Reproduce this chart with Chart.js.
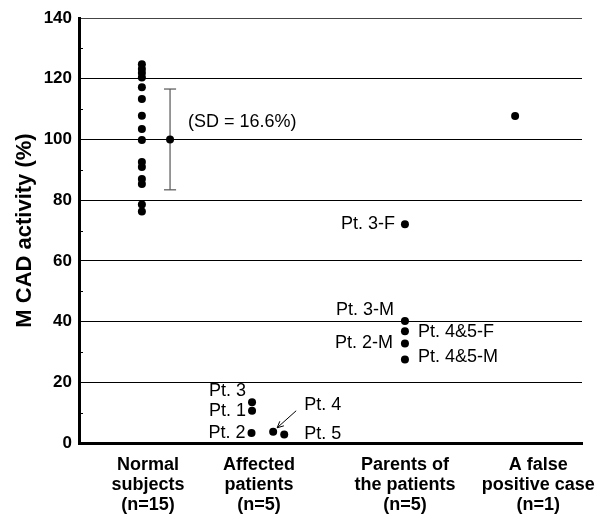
<!DOCTYPE html>
<html><head><meta charset="utf-8">
<script src="https://cdn.jsdelivr.net/npm/chart.js@4/dist/chart.umd.min.js"></script>
<style>html,body{margin:0;padding:0;background:#fff}#wrap{width:600px;height:517px;position:relative}</style>
</head><body><div id="wrap"><canvas id="c"></canvas></div>
<script>
// ---- data ----
const categories = [["Normal","subjects","(n=15)"],["Affected","patients","(n=5)"],["Parents of","the patients","(n=5)"],["A false","positive case","(n=1)"]];
const categoryX = [1.37, 3.58, 6.48, 9.13];
const yTicks = [0, 20, 40, 60, 80, 100, 120, 140];
const normalValues = [124.8, 123.2, 121.9, 120.4, 117.2, 113.3, 107.8, 103.4, 99.8, 92.6, 90.9, 87.0, 85.3, 78.6, 76.3];
const normalX = 1.25;
const sdMean = 100;
const sdValue = 16.6;
const sdX = 1.81;
const sdLabel = "(SD = 16.6%)";
const affectedLabels = ["Pt. 3", "Pt. 1", "Pt. 2", "Pt. 4", "Pt. 5"];
const affectedValues = [13.4, 10.6, 3.3, 3.7, 2.8];
const affectedX = [3.44, 3.44, 3.43, 3.86, 4.08];
const parentLabels = ["Pt. 3-F", "Pt. 3-M", "Pt. 4&5-F", "Pt. 2-M", "Pt. 4&5-M"];
const parentValues = [72.1, 40.2, 36.8, 32.8, 27.5];
const parentX = 6.48;
const falsePositiveValues = [107.7];
const falsePositiveX = 8.67;

// ---- label placement (style, pixel offsets from the point) ----
const labelStyle = {
  "Pt. 3": {align: "right", dx: -6, dy: -11},
  "Pt. 1": {align: "right", dx: -6, dy: 0},
  "Pt. 2": {align: "right", dx: -6, dy: 0},
  "Pt. 4": {align: "left", dx: 31, dy: -27},
  "Pt. 5": {align: "left", dx: 20, dy: 0},
  "Pt. 3-F": {align: "right", dx: -10, dy: 0},
  "Pt. 3-M": {align: "right", dx: -11, dy: -11},
  "Pt. 4&5-F": {align: "left", dx: 13, dy: 1},
  "Pt. 2-M": {align: "right", dx: -12, dy: 0},
  "Pt. 4&5-M": {align: "left", dx: 13, dy: -2},
  [sdLabel]: {align: "left", dx: 18, dy: -17}
};
const CAP = 0.12;
const dot = {pointRadius: 4, pointHoverRadius: 4, backgroundColor: "#000", borderColor: "#000", borderWidth: 0};
const errLine = {showLine: true, pointRadius: 0, borderColor: "#555", borderWidth: 1.2};

const annotate = {
  id: "annotate",
  afterDatasetsDraw(chart) {
    const ctx = chart.ctx;
    ctx.save();
    ctx.font = "18px 'Liberation Sans', Arial, sans-serif";
    ctx.fillStyle = "#000";
    ctx.textBaseline = "middle";
    chart.data.datasets.forEach((ds, di) => {
      if (!ds.labels) return;
      const meta = chart.getDatasetMeta(di);
      ds.labels.forEach((t, i) => {
        const el = meta.data[i];
        const s = labelStyle[t];
        ctx.textAlign = s.align;
        ctx.fillText(t, el.x + s.dx, el.y + s.dy);
        if (t === "Pt. 4") {
          const tx = el.x + 4, ty = el.y - 4, sx = el.x + 23, sy = el.y - 21;
          ctx.strokeStyle = "#000"; ctx.lineWidth = 1;
          ctx.beginPath(); ctx.moveTo(sx, sy); ctx.lineTo(tx, ty); ctx.stroke();
          const a = Math.atan2(ty - sy, tx - sx);
          ctx.beginPath();
          ctx.moveTo(tx - 7 * Math.cos(a - 0.45), ty - 7 * Math.sin(a - 0.45));
          ctx.lineTo(tx, ty);
          ctx.lineTo(tx - 7 * Math.cos(a + 0.45), ty - 7 * Math.sin(a + 0.45));
          ctx.stroke();
        }
      });
    });
    // minor ticks on y axis
    const ys = chart.scales.y, left = chart.chartArea.left;
    ctx.strokeStyle = "#000"; ctx.lineWidth = 1;
    for (let v = 10; v < 140; v += 20) {
      const y = Math.round(ys.getPixelForValue(v)) + 0.5;
      ctx.beginPath(); ctx.moveTo(left, y); ctx.lineTo(left + 4, y); ctx.stroke();
    }
    ctx.restore();
  }
};

new Chart(document.getElementById("c"), {
  type: "scatter",
  data: {
    datasets: [
      Object.assign({data: normalValues.map(v => ({x: normalX, y: v}))}, dot),
      Object.assign({data: [{x: sdX, y: sdMean}], labels: [sdLabel]}, dot),
      Object.assign({data: [{x: sdX, y: sdMean - sdValue}, {x: sdX, y: sdMean + sdValue}]}, errLine),
      Object.assign({data: [{x: sdX - CAP, y: sdMean + sdValue}, {x: sdX + CAP, y: sdMean + sdValue}]}, errLine),
      Object.assign({data: [{x: sdX - CAP, y: sdMean - sdValue}, {x: sdX + CAP, y: sdMean - sdValue}]}, errLine),
      Object.assign({data: affectedValues.map((v, i) => ({x: affectedX[i], y: v})), labels: affectedLabels}, dot),
      Object.assign({data: parentValues.map(v => ({x: parentX, y: v})), labels: parentLabels}, dot),
      Object.assign({data: falsePositiveValues.map(v => ({x: falsePositiveX, y: v}))}, dot)
    ]
  },
  options: {
    responsive: true,
    maintainAspectRatio: false,
    animation: false,
    layout: {padding: {top: 18, right: 18, left: 0, bottom: 0}},
    plugins: {legend: {display: false}, tooltip: {enabled: false}},
    scales: {
      x: {
        type: "linear", min: 0, max: 10,
        grid: {display: false, drawTicks: false},
        border: {display: true, width: 3, color: "#000"},
        afterBuildTicks: s => { s.ticks = categoryX.map(v => ({value: v})); },
        afterFit: s => { s.height = 74; s.paddingLeft = 0; s.paddingRight = 0; },
        ticks: {
          callback: (v, i) => categories[i],
          font: {family: "'Liberation Sans', Arial, sans-serif", size: 18, weight: "bold", lineHeight: 1.11},
          color: "#000", padding: 12, maxRotation: 0, autoSkip: false
        }
      },
      y: {
        type: "linear", min: 0, max: 140,
        afterBuildTicks: s => { s.ticks = yTicks.map(v => ({value: v})); },
        afterFit: s => { s.width = 79; },
        grid: {color: c => (c.tick && c.tick.value === 140 ? "#444" : "#000"), lineWidth: 1, drawTicks: false},
        border: {display: true, width: 3, color: "#000"},
        ticks: {
          font: {family: "'Liberation Sans', Arial, sans-serif", size: 17, weight: "bold"},
          color: "#000", padding: 7
        },
        title: {
          display: true, text: "M CAD activity (%)", color: "#000",
          font: {family: "'Liberation Sans', Arial, sans-serif", size: 22, weight: "bold", lineHeight: 1.2},
          padding: {top: 12, bottom: 0}
        }
      }
    }
  },
  plugins: [annotate]
});
</script>
</body></html>
